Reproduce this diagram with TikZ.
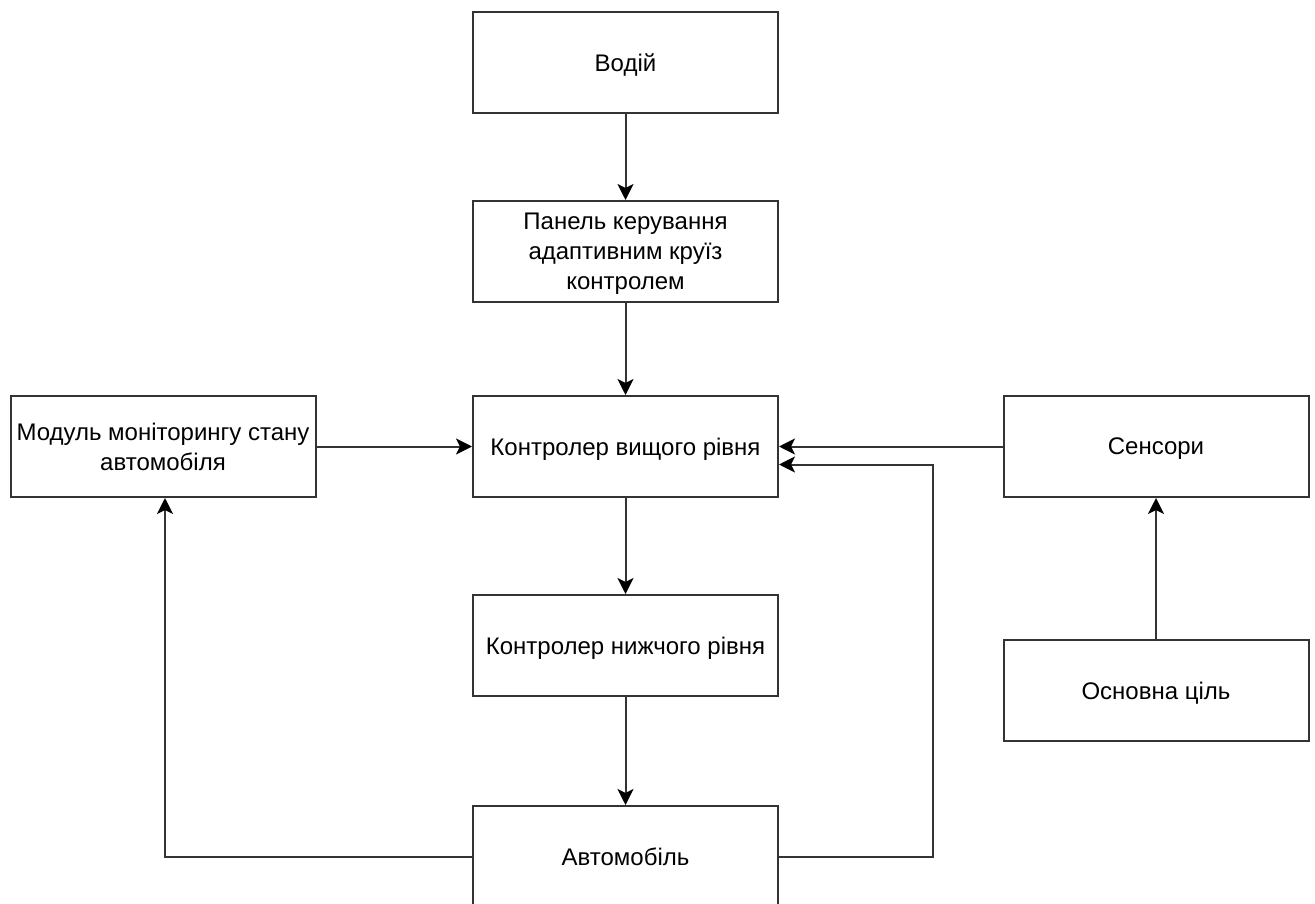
\documentclass[tikz,border=0pt]{standalone}
\usepackage{fontspec}
\setmainfont{Liberation Sans}
\usetikzlibrary{arrows.meta}

\begin{document}
\begin{tikzpicture}[x=1pt,y=-1pt,
        blok/.style={draw=black!80,line width=2pt,minimum width=305pt,minimum height=101pt,
            align=center,font=\fontsize{24}{30}\selectfont,inner sep=1pt,text depth=0pt},
        strilka/.style={draw=black!80,line width=2pt,-{Stealth[length=16pt,width=16pt,inset=4pt,black]}}]
    \useasboundingbox (0,0) rectangle (1315,904);

    % centralna gilka
    \node[blok] (vodii) at (625.5,62.5) {Водій};
    \node[blok] (panel) at (625.5,251.5) {Панель керування\\адаптивним круїз\\контролем};
    \node[blok] (vyshchyi) at (625.5,446.5) {Контролер вищого рівня};
    \node[blok] (nyzhchyi) at (625.5,645.5) {Контролер нижчого рівня};
    \node[blok] (avto) at (625.5,856.5) {Автомобіль};

    % bichni bloky
    \node[blok] (modul) at (163,446.5) {Модуль моніторингу стану\\автомобіля};
    \node[blok] (sensory) at (1156,446.5) {Сенсори};
    \node[blok] (tsil) at (1156,690.5) {Основна ціль};

    \draw[strilka] (vodii) -- (panel);
    \draw[strilka] (panel) -- (vyshchyi);
    \draw[strilka] (vyshchyi) -- (nyzhchyi);
    \draw[strilka] (nyzhchyi) -- (avto);
    \draw[strilka] (modul) -- (vyshchyi);
    \draw[strilka] (sensory) -- (vyshchyi);
    \draw[strilka] (tsil) -- (sensory);

    % zvorotni zvjazky
    \draw[strilka] (avto.west) -| ([xshift=2pt]modul.south);
    \draw[strilka] (avto.east) -- (933,856.5) |- ([yshift=-18pt]vyshchyi.east);

\end{tikzpicture}
\end{document}
